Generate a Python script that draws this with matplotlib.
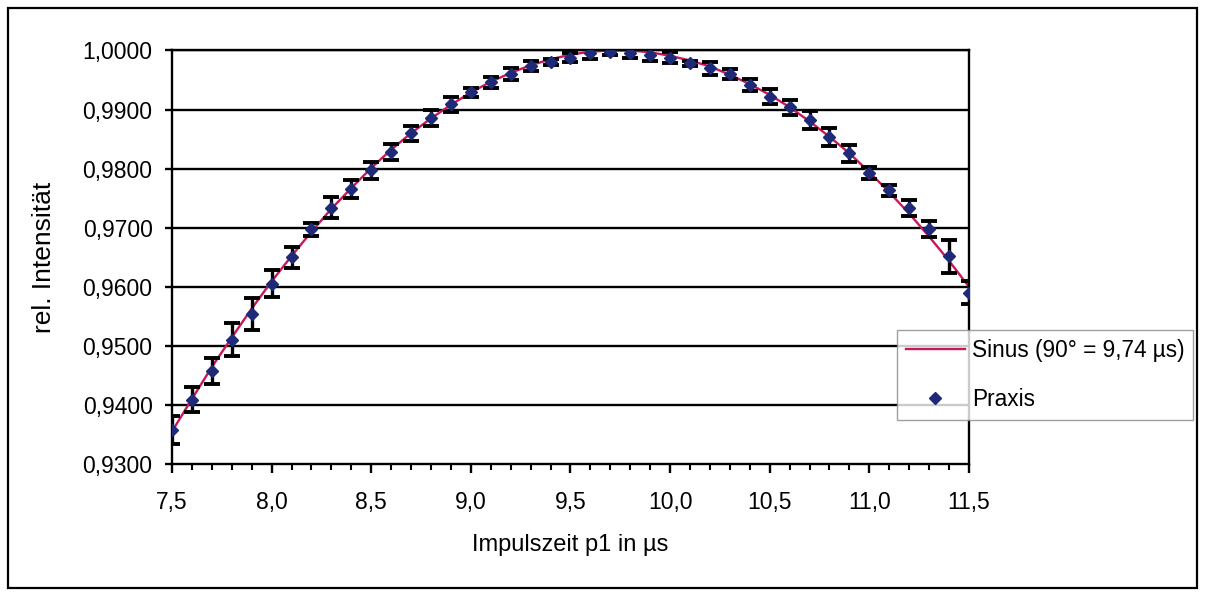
import matplotlib
matplotlib.use("Agg")
import matplotlib.pyplot as plt
from matplotlib.patches import Rectangle
from matplotlib.ticker import FixedLocator, FuncFormatter, MultipleLocator

plt.rcParams["font.family"] = ["Liberation Sans", "DejaVu Sans"]

# ---------------------------------------------------------------------------
# Data
# ---------------------------------------------------------------------------
p1_us = [7.5, 7.6, 7.7, 7.8, 7.9, 8.0, 8.1, 8.2, 8.3, 8.4,
         8.5, 8.6, 8.7, 8.8, 8.9, 9.0, 9.1, 9.2, 9.3, 9.4,
         9.5, 9.6, 9.7, 9.8, 9.9, 10.0, 10.1, 10.2, 10.3, 10.4,
         10.5, 10.6, 10.7, 10.8, 10.9, 11.0, 11.1, 11.2, 11.3, 11.4,
         11.5]

praxis = [0.9358, 0.9409, 0.9457, 0.9510, 0.9554, 0.9605, 0.9650, 0.9697, 0.9734, 0.9766,
          0.9797, 0.9828, 0.9860, 0.9886, 0.9909, 0.9929, 0.9946, 0.9960, 0.9974, 0.9980,
          0.9988, 0.9995, 0.9998, 0.9996, 0.9992, 0.9988, 0.9978, 0.9970, 0.9960, 0.9942,
          0.9922, 0.9904, 0.9882, 0.9854, 0.9826, 0.9792, 0.9763, 0.9733, 0.9698, 0.9652,
          0.9590]

praxis_err = [0.0024, 0.0021, 0.0022, 0.0028, 0.0027, 0.0023, 0.0018, 0.0011, 0.0018, 0.0015,
              0.0014, 0.0014, 0.0013, 0.0013, 0.0013, 0.0008, 0.0009, 0.0010, 0.0009, 0.0005,
              0.0008, 0.0009, 0.0006, 0.0009, 0.0010, 0.0009, 0.0005, 0.0011, 0.0008, 0.0010,
              0.0012, 0.0013, 0.0015, 0.0015, 0.0014, 0.0010, 0.0010, 0.0014, 0.0014, 0.0028,
              0.0020]

sinus = [0.9355, 0.9410, 0.9464, 0.9514, 0.9563, 0.9609, 0.9652, 0.9693, 0.9732, 0.9767,
         0.9801, 0.9832, 0.9860, 0.9885, 0.9908, 0.9929, 0.9947, 0.9962, 0.9975, 0.9985,
         0.9993, 0.9998, 1.0000, 1.0000, 0.9997, 0.9991, 0.9983, 0.9973, 0.9959, 0.9943,
         0.9925, 0.9904, 0.9880, 0.9854, 0.9826, 0.9794, 0.9760, 0.9724, 0.9685, 0.9644,
         0.9600]

y_ticks = [0.93, 0.94, 0.95, 0.96, 0.97, 0.98, 0.99, 1.00]
x_ticks = [7.5, 8.0, 8.5, 9.0, 9.5, 10.0, 10.5, 11.0, 11.5]

# ---------------------------------------------------------------------------
# Figure
# ---------------------------------------------------------------------------
fig = plt.figure(figsize=(12.05, 5.96), dpi=100)
ax = fig.add_axes([0.1427, 0.2215, 0.6614, 0.6938])

# outer frame of the chart object
fig.patches.append(Rectangle((0.007, 0.013), 0.986, 0.973, transform=fig.transFigure,
                             fill=False, edgecolor="black", linewidth=1.6))

ax.set_xlim(7.5, 11.5)
ax.set_ylim(0.93, 1.0)

for yv in y_ticks[1:]:
    ax.axhline(yv, color="black", linewidth=1.7, zorder=1)

line, = ax.plot(p1_us, sinus, color="#C8175A", linewidth=1.7, zorder=2,
                label="Sinus (90° = 9,74 µs)")
ax.errorbar(p1_us, praxis, yerr=praxis_err, fmt="none", ecolor="black",
            elinewidth=2.4, capsize=6, capthick=2.8, zorder=3)
pts, = ax.plot(p1_us, praxis, linestyle="none", marker="D", markersize=6.5,
               color="#1E2A78", markeredgecolor="#1E2A78", zorder=4, label="Praxis")

for side in ["left", "bottom", "right", "top"]:
    ax.spines[side].set_linewidth(1.7)
    ax.spines[side].set_color("black")

ax.yaxis.set_major_locator(FixedLocator(y_ticks))
ax.yaxis.set_major_formatter(FuncFormatter(lambda v, _: f"{v:.4f}".replace(".", ",")))
ax.xaxis.set_major_locator(FixedLocator(x_ticks))
ax.xaxis.set_minor_locator(MultipleLocator(0.1))
ax.xaxis.set_major_formatter(FuncFormatter(lambda v, _: f"{v:.1f}".replace(".", ",")))

ax.tick_params(axis="y", direction="out", length=5, width=1.7, labelsize=16.5, pad=9)
ax.tick_params(axis="x", which="major", direction="out", length=6.5, width=1.7,
               labelsize=16.5, pad=13)
ax.tick_params(axis="x", which="minor", direction="out", length=4.5, width=1.5)

ax.set_xlabel("Impulszeit p1 in µs", fontsize=17, labelpad=14)
ax.set_ylabel("rel. Intensität", fontsize=19, labelpad=19)

leg = ax.legend(handles=[line, pts], loc="upper left", bbox_to_anchor=(0.9097, 0.324),
                frameon=True, fancybox=False, fontsize=16.3, handlelength=2.6,
                borderpad=0.4, labelspacing=1.15, handletextpad=0.3, borderaxespad=0)
leg.get_frame().set_edgecolor("#888888")
leg.get_frame().set_linewidth(1.0)
leg.set_zorder(10)

fig.savefig("out.png", dpi=100)
